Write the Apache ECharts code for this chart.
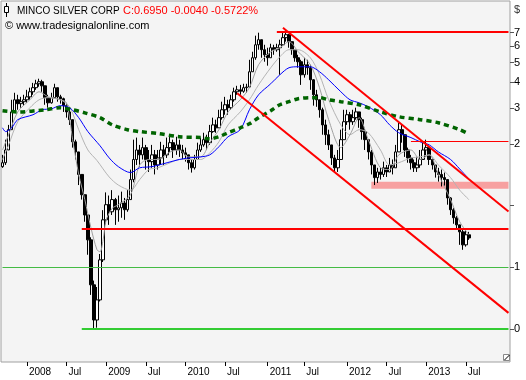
<!DOCTYPE html>
<html><head><meta charset="utf-8">
<script src="https://cdn.jsdelivr.net/npm/echarts@6/dist/echarts.min.js"></script>
<style>html,body{margin:0;padding:0;background:#fff}#c{width:526px;height:380px}</style>
</head><body><div id="c"></div>
<script>
// ---- categories: bi-weekly periods ----
const startDate = Date.UTC(2007, 8, 14);
const stepDays = 14;
const nCats = 167;
const lastLabelDate = '2013-07-31';
const cats = [];
for (let i = 0; i < nCats; i++) {
  cats.push(new Date(startDate + i * stepDays * 86400000).toISOString().slice(0, 10));
}
// ---- price candles ----
const openP = [1.55,1.62,1.87,2.35,2.87,3.29,3.15,3.22,3.29,3.40,
3.60,3.77,3.94,4.03,3.85,3.37,3.18,3.37,3.77,3.40,
3.33,3.08,2.87,2.63,2.05,1.83,1.42,1.13,0.90,0.68,
0.41,0.276,0.346,0.543,0.852,1.01,0.933,1.07,0.954,0.975,
1.03,0.954,1.07,1.34,1.68,1.87,1.77,1.92,1.68,1.64,
1.77,1.58,1.71,1.87,1.77,1.92,2.03,1.87,1.98,1.87,
1.81,1.77,1.62,1.53,1.68,1.87,1.98,2.10,2.03,2.30,
2.48,2.40,2.69,2.94,3.11,3.01,3.29,3.60,3.68,3.62,
3.77,3.80,4.51,5.28,6.11,6.47,5.78,5.46,5.28,5.91,
5.78,5.91,6.11,6.62,6.84,6.33,5.78,5.28,5.05,4.36,
4.88,4.72,4.12,3.48,3.29,2.94,2.48,2.22,1.98,1.71,
1.53,1.68,2.10,2.57,2.78,2.57,2.69,2.87,2.63,2.30,
2.10,1.83,1.58,1.37,1.46,1.42,1.53,1.46,1.58,1.53,
1.83,2.35,2.22,1.87,1.71,1.62,1.53,1.58,1.68,1.87,
1.92,1.68,1.58,1.46,1.42,1.37,1.34,1.09,0.954,0.872,
0.805,0.744,0.643,0.72];
const closeP = [1.62,1.87,2.35,2.87,3.29,3.15,3.22,3.29,3.40,3.60,
3.77,3.94,4.03,3.85,3.37,3.18,3.37,3.77,3.40,3.33,
3.08,2.87,2.63,2.05,1.83,1.42,1.13,0.90,0.68,0.41,
0.276,0.346,0.543,0.852,1.01,0.933,1.07,0.954,0.975,1.03,
0.954,1.07,1.34,1.68,1.87,1.77,1.92,1.68,1.64,1.77,
1.58,1.71,1.87,1.77,1.92,2.03,1.87,1.98,1.87,1.81,
1.77,1.62,1.53,1.68,1.87,1.98,2.10,2.03,2.30,2.48,
2.40,2.69,2.94,3.11,3.01,3.29,3.60,3.68,3.62,3.77,
3.80,4.51,5.28,6.11,6.47,5.78,5.46,5.28,5.91,5.78,
5.91,6.11,6.62,6.84,6.33,5.78,5.28,5.05,4.36,4.88,
4.72,4.12,3.48,3.29,2.94,2.48,2.22,1.98,1.71,1.53,
1.68,2.10,2.57,2.78,2.57,2.69,2.87,2.63,2.30,2.10,
1.83,1.58,1.37,1.46,1.42,1.53,1.46,1.58,1.53,1.83,
2.35,2.22,1.87,1.71,1.62,1.53,1.58,1.68,1.87,1.92,
1.68,1.58,1.46,1.42,1.37,1.34,1.09,0.954,0.872,0.805,
0.744,0.643,0.72,0.695];
const lowP = [1.53,1.58,1.87,2.35,2.87,2.94,3.01,3.08,3.18,3.29,
3.48,3.68,3.81,3.60,3.11,3.01,3.15,3.37,3.22,3.15,
2.87,2.69,2.48,1.92,1.68,1.26,1.07,0.834,0.575,0.366,
0.25,0.253,0.34,0.53,0.81,0.805,0.90,0.805,0.834,0.872,
0.852,0.933,1.07,1.30,1.58,1.55,1.68,1.50,1.46,1.53,
1.42,1.50,1.58,1.58,1.71,1.83,1.71,1.77,1.73,1.68,
1.64,1.50,1.45,1.50,1.68,1.83,1.94,1.87,1.98,2.27,
2.27,2.40,2.63,2.78,2.78,2.94,3.22,3.48,3.48,3.56,
3.56,3.77,4.51,5.16,5.78,5.28,5.05,4.83,5.28,5.46,
5.65,4.36,6.05,6.33,5.91,5.46,5.05,4.72,3.89,4.22,
4.36,3.68,3.08,3.04,2.69,2.22,1.98,1.87,1.58,1.46,
1.46,1.68,2.10,2.48,2.35,2.48,2.63,2.40,2.10,1.87,
1.68,1.42,1.26,1.29,1.34,1.38,1.38,1.46,1.42,1.53,
1.83,2.03,1.73,1.62,1.50,1.46,1.46,1.53,1.68,1.73,
1.58,1.50,1.37,1.31,1.24,1.25,1.01,0.90,0.815,0.761,
0.643,0.608,0.63,0.68];
const highP = [1.77,2.10,2.48,3.29,3.56,3.48,3.40,3.48,3.68,3.77,
3.98,4.12,4.17,4.12,3.85,3.48,3.56,3.94,3.77,3.48,
3.37,3.15,2.94,2.63,2.10,1.83,1.42,1.13,0.90,0.70,
0.43,0.40,0.58,0.95,1.16,1.12,1.19,1.09,1.12,1.17,
1.09,1.19,1.50,2.10,2.15,1.98,2.15,1.98,1.87,1.98,
1.87,1.87,2.05,1.98,2.15,2.22,2.10,2.17,2.10,1.98,
1.92,1.77,1.68,1.77,2.03,2.15,2.27,2.22,2.48,2.69,
2.63,2.94,3.22,3.40,3.29,3.48,3.77,3.85,3.89,3.94,
3.94,5.16,5.65,6.77,7.00,6.47,6.11,5.91,6.18,6.11,
6.18,6.47,7.00,7.24,6.90,6.33,5.78,5.46,5.16,5.28,
5.16,4.88,4.15,3.68,3.29,3.01,2.63,2.35,1.98,1.77,
1.87,2.35,2.94,2.94,2.87,2.94,3.01,2.87,2.69,2.40,
2.10,1.87,1.58,1.53,1.53,1.64,1.58,1.71,1.68,1.98,
2.54,2.48,2.22,1.92,1.77,1.68,1.73,1.87,2.03,2.10,
1.92,1.71,1.58,1.53,1.50,1.45,1.34,1.10,0.975,0.89,
0.805,0.761,0.761,0.744];
// ---- averages: [category index, price] ----
const maFast = [[0,1.87],[2,2.22],[5,2.87],[9,3.29],[12,3.60],[15,3.40],[19,3.29],[21,3.18],[23,2.10],[25,1.42],[27,1.07],[29,0.78],[31,0.608],[32,0.595],[33,0.68],[34,0.85],[36,0.97],[38,1.01],[42,1.13],[45,1.58],[48,1.68],[51,1.68],[55,1.83],[58,1.87],[61,1.73],[65,1.73],[68,2.03],[71,2.35],[74,2.87],[78,3.29],[81,3.77],[84,4.88],[88,5.65],[91,5.91],[94,6.33],[97,5.65],[101,4.88],[104,3.77],[107,2.63],[111,1.92],[114,2.22],[117,2.69],[120,2.10],[124,1.53],[127,1.50],[130,1.77],[134,1.87],[137,1.68],[140,1.77],[143,1.42],[147,1.07],[150,0.834],[153,0.72]];
const maSlow = [[0,1.68],[2,1.98],[5,2.57],[9,3.01],[12,3.29],[15,3.37],[19,3.29],[22,3.04],[25,2.35],[28,1.87],[31,1.66],[35,1.38],[38,1.26],[42,1.19],[45,1.34],[48,1.50],[51,1.53],[55,1.62],[58,1.68],[61,1.68],[65,1.68],[68,1.81],[71,2.05],[74,2.48],[78,2.87],[81,3.29],[84,3.89],[88,4.72],[91,5.34],[94,5.78],[97,5.78],[101,5.28],[104,4.36],[107,3.29],[111,2.48],[114,2.22],[117,2.35],[120,2.27],[124,1.87],[127,1.58],[130,1.62],[134,1.71],[137,1.73],[140,1.77],[143,1.58],[147,1.37],[150,1.19],[153,1.07]];
const maBlue = [[0,2.40],[1,2.30],[3,2.40],[5,2.63],[10,2.78],[13,2.94],[16,2.97],[19,3.08],[22,3.01],[25,2.69],[28,2.30],[32,1.96],[35,1.71],[38,1.55],[42,1.45],[45,1.53],[49,1.55],[54,1.62],[58,1.68],[61,1.71],[65,1.73],[68,1.77],[71,1.94],[74,2.17],[78,2.35],[81,2.94],[84,3.48],[88,3.94],[91,4.36],[94,4.72],[97,4.77],[101,4.77],[104,4.51],[107,4.12],[111,3.60],[114,3.29],[117,3.18],[120,3.04],[124,2.78],[127,2.48],[130,2.27],[134,2.15],[137,2.05],[140,1.98],[143,1.83],[147,1.68],[150,1.51],[153,1.35]];
const maGreen = [[0,2.91],[5,2.87],[14,2.94],[19,3.01],[23,2.94],[27,2.84],[32,2.69],[36,2.48],[41,2.35],[45,2.30],[51,2.25],[58,2.17],[65,2.15],[68,2.12],[71,2.17],[74,2.27],[78,2.40],[81,2.51],[84,2.69],[88,2.91],[91,3.11],[94,3.22],[97,3.33],[101,3.37],[104,3.37],[107,3.29],[111,3.22],[117,3.11],[124,2.87],[130,2.72],[137,2.63],[143,2.54],[150,2.35],[153,2.24]];
// ---- drawn lines: [category index, price] endpoints ----
const topResistance = [[90, 7.1], [166, 7.1]];
const upperChannel = [[92, 7.40], [166, 0.935]];
const lowerChannel = [[77, 3.54], [166, 0.299]];
const redSupport = [[26, 0.770], [166, 0.770]];
const thinRed = [[134, 2.07], [166, 2.07]];
const greenLow = [[26, 0.250], [166, 0.250]];
const greenHalf = [[0, 0.50], [166, 0.50]];
const pinkBand = [[121, 1.307], [166, 1.208]];
// ---- axis ----
const yMin = 0.172, yMax = 10.0;
const yTicks = [7, 6, 5, 4, 3, 2, 1, 0.5, 0.25];
const yTickLabels = ['7', '6', '5', '4', '3', '2', '', '1', '0'];

const L = Math.log;
const FONT = 'Liberation Sans';
const candles = openP.map((o, i) => [L(o), L(closeP[i]), L(lowP[i]), L(highP[i])]);
const toLine = arr => arr.map(p => [cats[p[0]], L(p[1])]);
const seg = (arr, style) => [{coord: [cats[arr[0][0]], L(arr[0][1])], lineStyle: style}, {coord: [cats[arr[1][0]], L(arr[1][1])]}];
function isMark(index, value) {
  if (value > lastLabelDate) return false;
  const m = value.slice(5, 7);
  const prev = index > 0 ? cats[index - 1].slice(5, 7) : null;
  return (m === '01' || m === '07') && m !== prev;
}

const chart = echarts.init(document.getElementById('c'), null, {renderer: 'canvas'});
chart.setOption({
  animation: false,
  backgroundColor: '#ffffff',
  grid: {left: 1, right: 16, top: 1, bottom: 18, show: true, backgroundColor: '#f4f4f4', borderColor: '#a0a0a0', borderWidth: 1},
  xAxis: {
    type: 'category', data: cats, boundaryGap: true, position: 'bottom',
    axisLine: {show: false, onZero: false},
    axisTick: {show: true, interval: isMark, alignWithLabel: true, length: 4, lineStyle: {color: '#000'}},
    axisLabel: {interval: isMark, formatter: v => v.slice(5, 7) === '01' ? v.slice(0, 4) : 'Jul', align: 'left', padding: [0, 0, 0, 2], margin: 5, fontSize: 10, color: '#000', fontFamily: FONT},
    splitLine: {show: false}
  },
  yAxis: {
    type: 'value', position: 'right', min: L(yMin), max: L(yMax), scale: true,
    axisLine: {show: false, onZero: false},
    splitLine: {show: false},
    axisTick: {show: true, customValues: yTicks.map(L), length: 4, lineStyle: {color: '#555'}},
    axisLabel: {customValues: yTicks.map(L), margin: 4, fontSize: 11, color: '#000', fontFamily: FONT,
      formatter: v => { const j = yTicks.findIndex(t => Math.abs(L(t) - v) < 1e-6); return j >= 0 ? yTickLabels[j] : ''; }}
  },
  series: [
    {type: 'line', data: [], z: 1, silent: true,
      markArea: {silent: true, itemStyle: {color: '#f7a0a0'},
        data: [[{coord: [cats[pinkBand[0][0]], L(pinkBand[0][1])]}, {coord: [cats[pinkBand[1][0]], L(pinkBand[1][1])]}]]}},
    {type: 'candlestick', data: candles, barWidth: 3, z: 2, silent: true,
      itemStyle: {color: '#ffffff', color0: '#000000', borderColor: '#000000', borderColor0: '#000000', borderWidth: 1}},
    {type: 'line', data: toLine(maSlow), smooth: 0.3, symbol: 'none', z: 3, lineStyle: {color: '#b4b4b4', width: 1}},
    {type: 'line', data: toLine(maFast), smooth: 0.3, symbol: 'none', z: 3, lineStyle: {color: '#a0a0a0', width: 1}},
    {type: 'line', data: toLine(maBlue), smooth: 0.3, symbol: 'none', z: 3, lineStyle: {color: '#0000ff', width: 1}},
    {type: 'line', data: toLine(maGreen), smooth: 0.3, symbol: 'none', z: 3, lineStyle: {color: '#006400', width: 3.5, type: [5, 4], cap: 'butt'}},
    {type: 'line', data: [], z: 5, silent: true,
      markLine: {silent: true, symbol: ['none', 'none'], label: {show: false},
        data: [
          seg(greenHalf, {color: '#44bb44', width: 1, type: 'solid'}),
          seg(greenLow, {color: '#33cc33', width: 2, type: 'solid'}),
          seg(thinRed, {color: '#ff0000', width: 1, type: 'solid'}),
          seg(redSupport, {color: '#ff0000', width: 2, type: 'solid'}),
          seg(topResistance, {color: '#ff0000', width: 2, type: 'solid'}),
          seg(upperChannel, {color: '#ff0000', width: 2, type: 'solid'}),
          seg(lowerChannel, {color: '#ff0000', width: 2, type: 'solid'})
        ]}}
  ],
  graphic: [
    {type: 'line', shape: {x1: 6.5, y1: 3, x2: 6.5, y2: 17}, style: {stroke: '#000', lineWidth: 1}, z: 100},
    {type: 'rect', shape: {x: 4.5, y: 6.5, width: 4, height: 6}, style: {fill: '#fff', stroke: '#000', lineWidth: 1}, z: 101},
    {type: 'text', x: 17, y: 11, z: 100, style: {text: 'MINCO SILVER CORP', font: '10px "Liberation Sans"', fill: '#000', verticalAlign: 'middle'}},
    {type: 'text', x: 123, y: 11, z: 100, style: {text: 'C:0.6950 -0.0040 -0.5722%', font: '11px "Liberation Sans"', fill: '#ff0000', verticalAlign: 'middle'}},
    {type: 'text', x: 5, y: 26, z: 100, style: {text: '\u00a9 www.tradesignalonline.com', font: '11px "Liberation Sans"', fill: '#000', verticalAlign: 'middle'}},
    {type: 'text', x: 514, y: 10, z: 100, style: {text: '$', font: '11px "Liberation Sans"', fill: '#333', verticalAlign: 'middle'}},
    {type: 'rect', shape: {x: 503.5, y: 354.5, width: 6, height: 6}, style: {fill: '#fff', stroke: '#888', lineWidth: 1}, z: 100},
    {type: 'line', shape: {x1: 504.5, y1: 360, x2: 509.5, y2: 355}, style: {stroke: '#000', lineWidth: 1}, z: 101}
  ]
});
</script></body></html>
